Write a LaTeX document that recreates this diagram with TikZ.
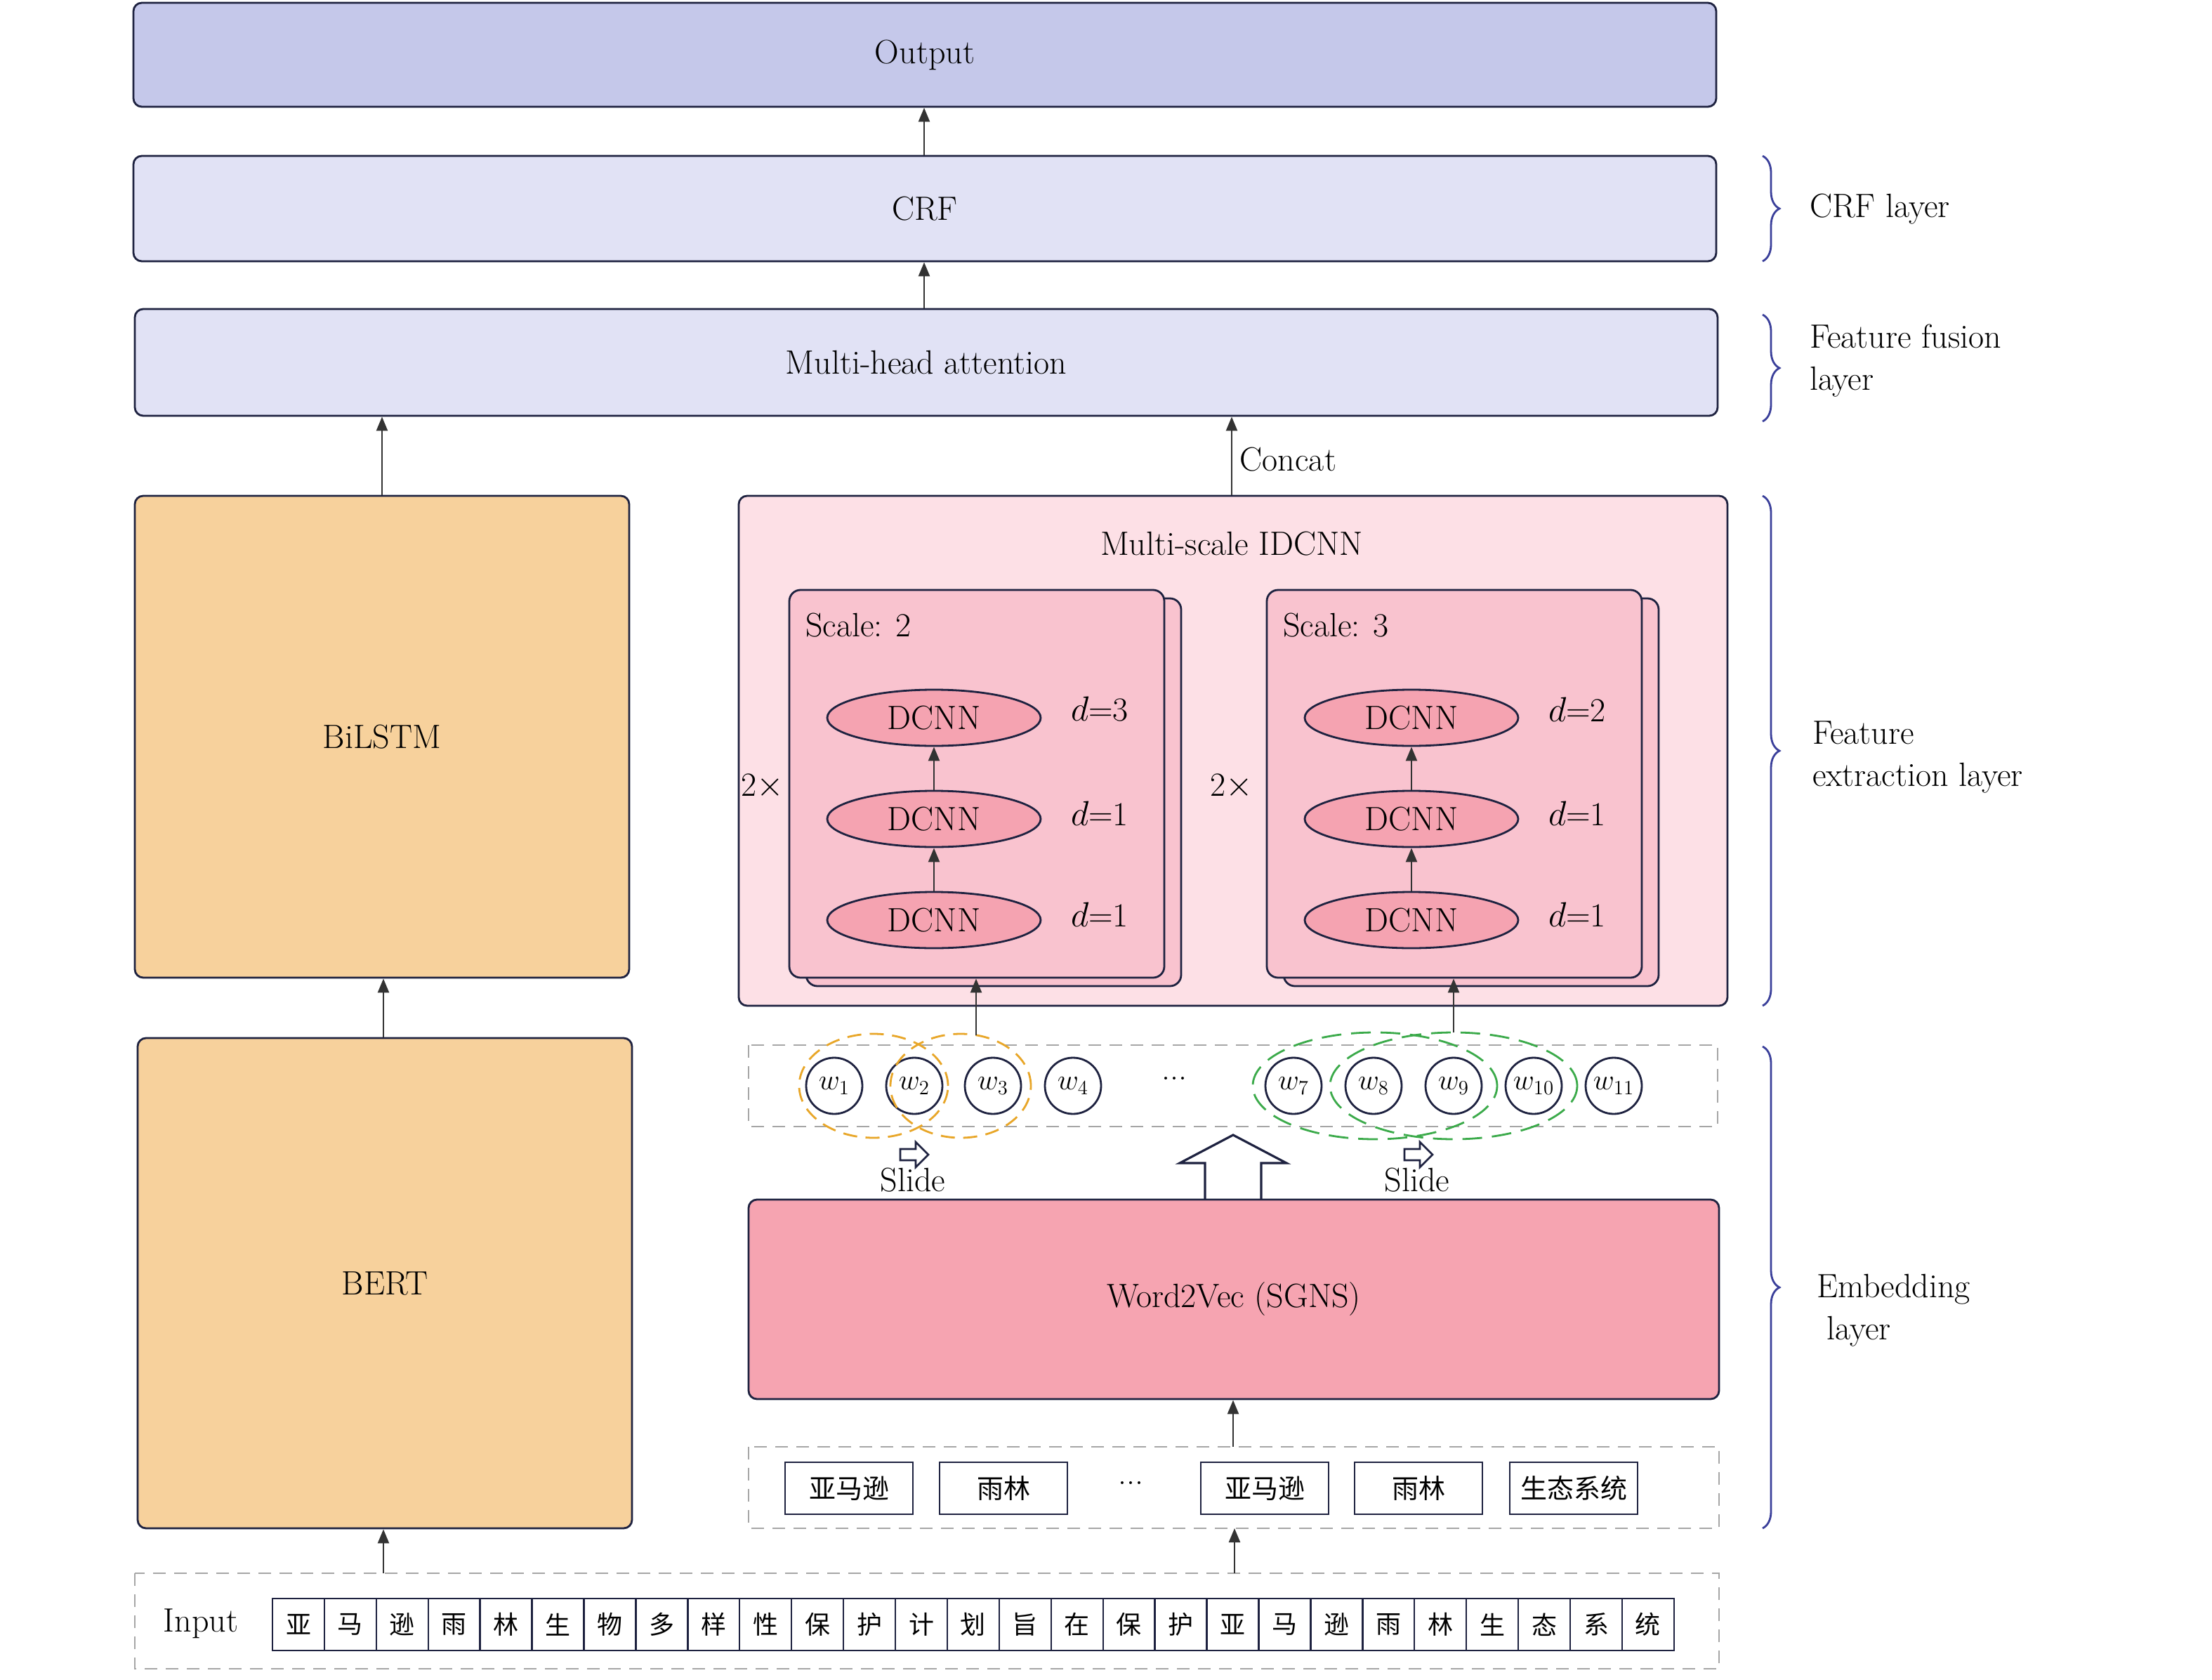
\documentclass[tikz,border=0pt]{standalone}
\usepackage{fontspec}
\newfontfamily\cjk{Noto Sans CJK SC}
\usetikzlibrary{arrows.meta,decorations.pathreplacing,shapes.geometric,calc}
\definecolor{outc}{HTML}{C5C8EA}
\definecolor{crfc}{HTML}{E1E2F5}
\definecolor{orc}{HTML}{F7D19C}
\definecolor{idc}{HTML}{FDE0E6}
\definecolor{scc}{HTML}{F9C3CF}
\definecolor{elc}{HTML}{F5A3B1}
\definecolor{w2v}{HTML}{F6A4B1}
\definecolor{edge}{HTML}{1E2240}
\definecolor{brc}{HTML}{3A3F9A}
\definecolor{orng}{HTML}{E8A628}
\definecolor{grn}{HTML}{3BAA4A}
\tikzset{
 box/.style={draw=edge,line width=1.4pt,rounded corners=6pt,inner sep=0pt,font=\fontsize{24}{28}\selectfont},
 dbox/.style={draw=gray!70,dashed,line width=1.4pt,dash pattern=on 9pt off 6pt},
 arr/.style={-{Triangle[length=10pt,width=8pt]},line width=1.2pt,draw=black!80},
 ell/.style={ellipse,draw=edge,line width=1.4pt,fill=elc,minimum width=152pt,minimum height=40pt,inner sep=0pt,font=\fontsize{24}{28}\selectfont},
 wc/.style={circle,draw=edge,line width=1.4pt,fill=white,minimum size=40pt,inner sep=0pt,font=\fontsize{20}{24}\selectfont},
 tb/.style={draw=edge,line width=1.4pt,fill=white,minimum width=91pt,minimum height=37pt,inner sep=0pt,font=\cjk\fontsize{19}{22}\selectfont},
 ch/.style={draw=edge,line width=1.2pt,fill=white,minimum width=37pt,minimum height=37pt,inner sep=0pt,font=\cjk\fontsize{18}{22}\selectfont},
 lbl/.style={font=\fontsize{24}{30}\selectfont,align=left,anchor=west},
 txt/.style={font=\fontsize{24}{28}\selectfont},
 brace/.style={decorate,decoration={brace,amplitude=12pt},draw=brc,line width=1.4pt},
}
\begin{document}
\begin{tikzpicture}[x=1pt,y=-1pt]
\useasboundingbox[fill=white] (0,0) rectangle (1575,1196);
% top boxes
\node[box,fill=outc,minimum width=1127pt,minimum height=74pt] (out) at (658.5,39) {Output};
\node[box,fill=crfc,minimum width=1127pt,minimum height=75pt] (crf) at (658.5,148.5) {CRF};
\node[box,fill=crfc,minimum width=1127pt,minimum height=76pt] (mha) at (659.5,258) {Multi-head attention};
\draw[arr] (crf.north -| 658,0) -- (out.south -| 658,0);
\draw[arr] (mha.north -| 658,0) -- (crf.south -| 658,0);
% left column
\node[box,fill=orc,minimum width=352pt,minimum height=343pt] (bilstm) at (272,524.5) {BiLSTM};
\node[box,fill=orc,minimum width=352pt,minimum height=349pt] (bert) at (274,913.5) {BERT};
\draw[arr] (bilstm.north -| 272,0) -- (mha.south -| 272,0);
\draw[arr] (bert.north -| 273,0) -- (bilstm.south -| 273,0);
% IDCNN
\node[box,fill=idc,minimum width=704pt,minimum height=363pt] (idcnn) at (878,534.5) {};
\node[txt] (idt) at (877,387) {Multi-scale IDCNN};
\draw[arr] (idcnn.north -| 877,0) -- node[txt,right,pos=0.45,xshift=2pt] (concat) {Concat} (mha.south -| 877,0);
% scale boxes
\foreach \n/\x/\s in {a/562/2,b/902/3}{
 \draw[draw=edge,line width=1.4pt,fill=scc,rounded corners=8pt] (\x+12,426) rectangle (\x+279,702);
 \node[box,fill=scc,rounded corners=8pt,minimum width=267pt,minimum height=276pt] (sc\n) at (\x+133.5,558) {};
 \node[txt,anchor=west] at (\x+8,445) {Scale: \s};
}
\node[ell] (a1) at (665,511) {DCNN};
\node[ell] (a2) at (665,583) {DCNN};
\node[ell] (a3) at (665,655) {DCNN};
\node[ell] (b1) at (1005,511) {DCNN};
\node[ell] (b2) at (1005,583) {DCNN};
\node[ell] (b3) at (1005,655) {DCNN};
\draw[arr] (a3) -- (a2); \draw[arr] (a2) -- (a1);
\draw[arr] (b3) -- (b2); \draw[arr] (b2) -- (b1);
\node[txt] at (783,505) {$d$=3};
\node[txt] at (783,579) {$d$=1};
\node[txt] at (783,651) {$d$=1};
\node[txt] at (1123,505) {$d$=2};
\node[txt] at (1123,579) {$d$=1};
\node[txt] at (1123,651) {$d$=1};
\node[txt] at (543,560) {2$\times$};
\node[txt] at (877,560) {2$\times$};
% w row
\draw[dbox] (533,744) rectangle (1223,802);
\foreach \i/\x in {1/594,2/651,3/707,4/764,7/921,8/978,9/1035,10/1092,11/1149}{
 \node[wc] (w\i) at (\x,773) {$w_{\i}$};
}
\node[txt] (dots1) at (836,768) {...};
\draw[orng,line width=1.4pt,dash pattern=on 10pt off 6pt] (622,773) ellipse [x radius=53pt,y radius=37pt];
\draw[orng,line width=1.4pt,dash pattern=on 10pt off 6pt] (684,773) ellipse [x radius=50pt,y radius=37pt];
\draw[grn,line width=1.4pt,dash pattern=on 14pt off 7pt] (979,773) ellipse [x radius=87pt,y radius=38pt];
\draw[grn,line width=1.4pt,dash pattern=on 14pt off 7pt] (1035,773) ellipse [x radius=88pt,y radius=38pt];
\coordinate (wa) at (695,737);
\coordinate (wb) at (1035,735);
\draw[arr] (wa) -- (sca.south -| wa);
\draw[arr] (wb) -- (scb.south -| wb);
% slide arrows
\foreach \x/\n in {650/s1,1009/s2}{
 \draw[draw=edge,line width=1.3pt,fill=white] (\x-9,818) -- (\x+2,818) -- (\x+2,813) -- (\x+11,822) -- (\x+2,831) -- (\x+2,826) -- (\x-9,826) -- cycle;
 \node[txt] (\n) at (\x,840) {Slide};
}
% big hollow arrow
\draw[draw=edge,line width=1.6pt,fill=white] (858,854) -- (858,828) -- (840,828) -- (878,808) -- (916,828) -- (898,828) -- (898,854);
% word2vec
\node[box,fill=w2v,minimum width=691pt,minimum height=142pt] (w2vn) at (878.5,925) {Word2Vec (SGNS)};
% token row
\draw[dbox] (533,1030) rectangle (1224,1088);
\coordinate (tokrow) at (878,1030);
\draw[arr] (tokrow) -- (w2vn.south -| tokrow);
\node[tb] (t1) at (604.5,1059.5) {亚马逊};
\node[tb] (t2) at (714.5,1059.5) {雨林};
\node[txt] (dots2) at (805,1056) {...};
\node[tb] (t3) at (900.5,1059.5) {亚马逊};
\node[tb] (t4) at (1010,1059.5) {雨林};
\node[tb] (t5) at (1120.5,1059.5) {生态系统};
% input row
\draw[dbox] (96,1120) rectangle (1224,1188);
\node[txt] (inp) at (143,1156) {Input};
\foreach \c [count=\i from 0] in {亚,马,逊,雨,林,生,物,多,样,性,保,护,计,划,旨,在,保,护,亚,马,逊,雨,林,生,态,系,统}{
 \node[ch] (c\i) at (212.5+\i*36.96,1156.5) {\c};
}
\coordinate (in1) at (273,1120);
\coordinate (in2) at (879,1120);
\coordinate (tk) at (879,1088);
\draw[arr] (in1) -- (bert.south -| in1);
\draw[arr] (in2) -- (tk);
% braces
\draw[brace] (1255,111) -- (1255,186);
\draw[brace] (1255,224) -- (1255,300);
\draw[brace] (1255,353) -- (1255,716);
\draw[brace] (1255,745) -- (1255,1088);
\node[lbl] at (1285,149) {CRF layer};
\node[lbl] at (1285,257) {Feature fusion\\layer};
\node[lbl] at (1287,539) {Feature\\extraction layer};
\node[lbl] at (1290,933) {Embedding\\\ layer};
\end{tikzpicture}
\end{document}
